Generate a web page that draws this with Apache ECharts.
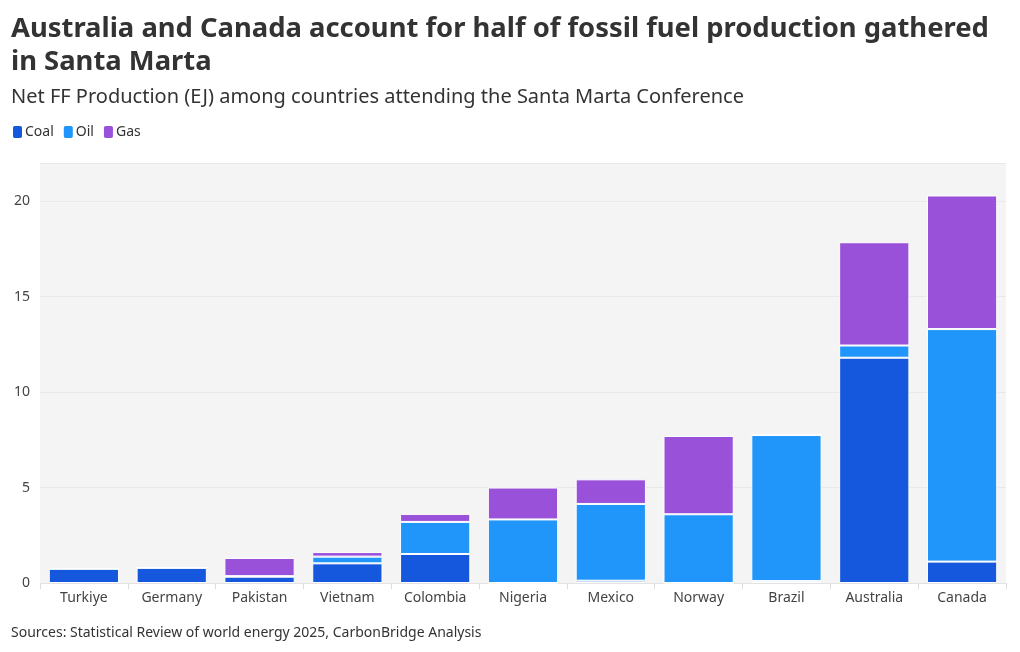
<!DOCTYPE html>
<html>
<head>
<meta charset="utf-8">
<script src="https://cdn.jsdelivr.net/npm/echarts@6/dist/echarts.min.js"></script>
<style>
  html, body { margin: 0; padding: 0; background: #fff; }
  #chart { width: 1020px; height: 652px; }
</style>
</head>
<body>
<div id="chart"></div>
<script>
const countries = ['Turkiye', 'Germany', 'Pakistan', 'Vietnam', 'Colombia', 'Nigeria', 'Mexico', 'Norway', 'Brazil', 'Australia', 'Canada'];
const coal = [0.75, 0.8, 0.33, 1.03, 1.52, 0, 0.12, 0, 0.1, 11.8, 1.12];
const oil = [0, 0, 0.03, 0.35, 1.68, 3.33, 4.02, 3.6, 7.65, 0.64, 12.18];
const gas = [0, 0, 0.95, 0.24, 0.42, 1.67, 1.29, 4.1, 0, 5.41, 7.0];

const font = '"Noto Sans", Roboto, sans-serif';
const textColor = '#333333';

const chart = echarts.init(document.getElementById('chart'), null, { renderer: 'canvas' });

function barSeries(name, data, color) {
  return {
    name,
    type: 'bar',
    stack: 'total',
    barWidth: '80%',
    data,
    itemStyle: {
      color,
      borderColor: '#ffffff',
      borderWidth: 1
    },
    emphasis: { disabled: true }
  };
}

chart.setOption({
  animation: false,
  textStyle: { fontFamily: font },
  title: [
    {
      text: 'Australia and Canada account for half of fossil fuel production gathered\nin Santa Marta',
      left: 11,
      top: 13,
      padding: 0,
      textStyle: {
        fontFamily: font,
        fontSize: 27.4,
        fontWeight: 'bold',
        color: textColor,
        lineHeight: 33
      }
    },
    {
      text: 'Net FF Production (EJ) among countries attending the Santa Marta Conference',
      left: 11,
      top: 87,
      padding: 0,
      textStyle: {
        fontFamily: font,
        fontSize: 20,
        fontWeight: 'normal',
        color: textColor
      }
    }
  ],
  legend: {
    left: 11,
    top: 124,
    padding: 0,
    icon: 'roundRect',
    itemWidth: 11,
    itemHeight: 14,
    itemGap: 8,
    textStyle: { fontFamily: font, fontSize: 14, color: textColor, padding: [0, 0, 0, -3] },
    data: ['Coal', 'Oil', 'Gas']
  },
  grid: {
    left: 40,
    right: 14,
    top: 163,
    bottom: 69,
    show: true,
    backgroundColor: '#f4f4f4',
    borderWidth: 0
  },
  xAxis: {
    type: 'category',
    data: countries,
    axisLine: { show: true, lineStyle: { color: '#e2e2e2' } },
    axisTick: { show: true, length: 6, lineStyle: { color: '#dddddd' } },
    axisLabel: { fontFamily: font, fontSize: 14, color: '#444444', margin: 8 }
  },
  yAxis: {
    type: 'value',
    min: 0,
    max: 22,
    interval: 5,
    axisLine: { show: false },
    axisTick: { show: false },
    axisLabel: {
      fontFamily: font,
      fontSize: 14,
      color: '#444444',
      margin: 10,
      showMaxLabel: false
    },
    splitLine: { lineStyle: { color: '#e8e8e8', width: 1 } }
  },
  series: [
    barSeries('Coal', coal, '#1558de'),
    barSeries('Oil', oil, '#2196fa'),
    barSeries('Gas', gas, '#9a51d9')
  ],
  graphic: [
    {
      type: 'text',
      left: 11,
      top: 626,
      style: {
        text: 'Sources: Statistical Review of world energy 2025, CarbonBridge Analysis',
        fontFamily: font,
        fontSize: 14,
        fill: textColor
      }
    }
  ]
});
</script>
</body>
</html>
